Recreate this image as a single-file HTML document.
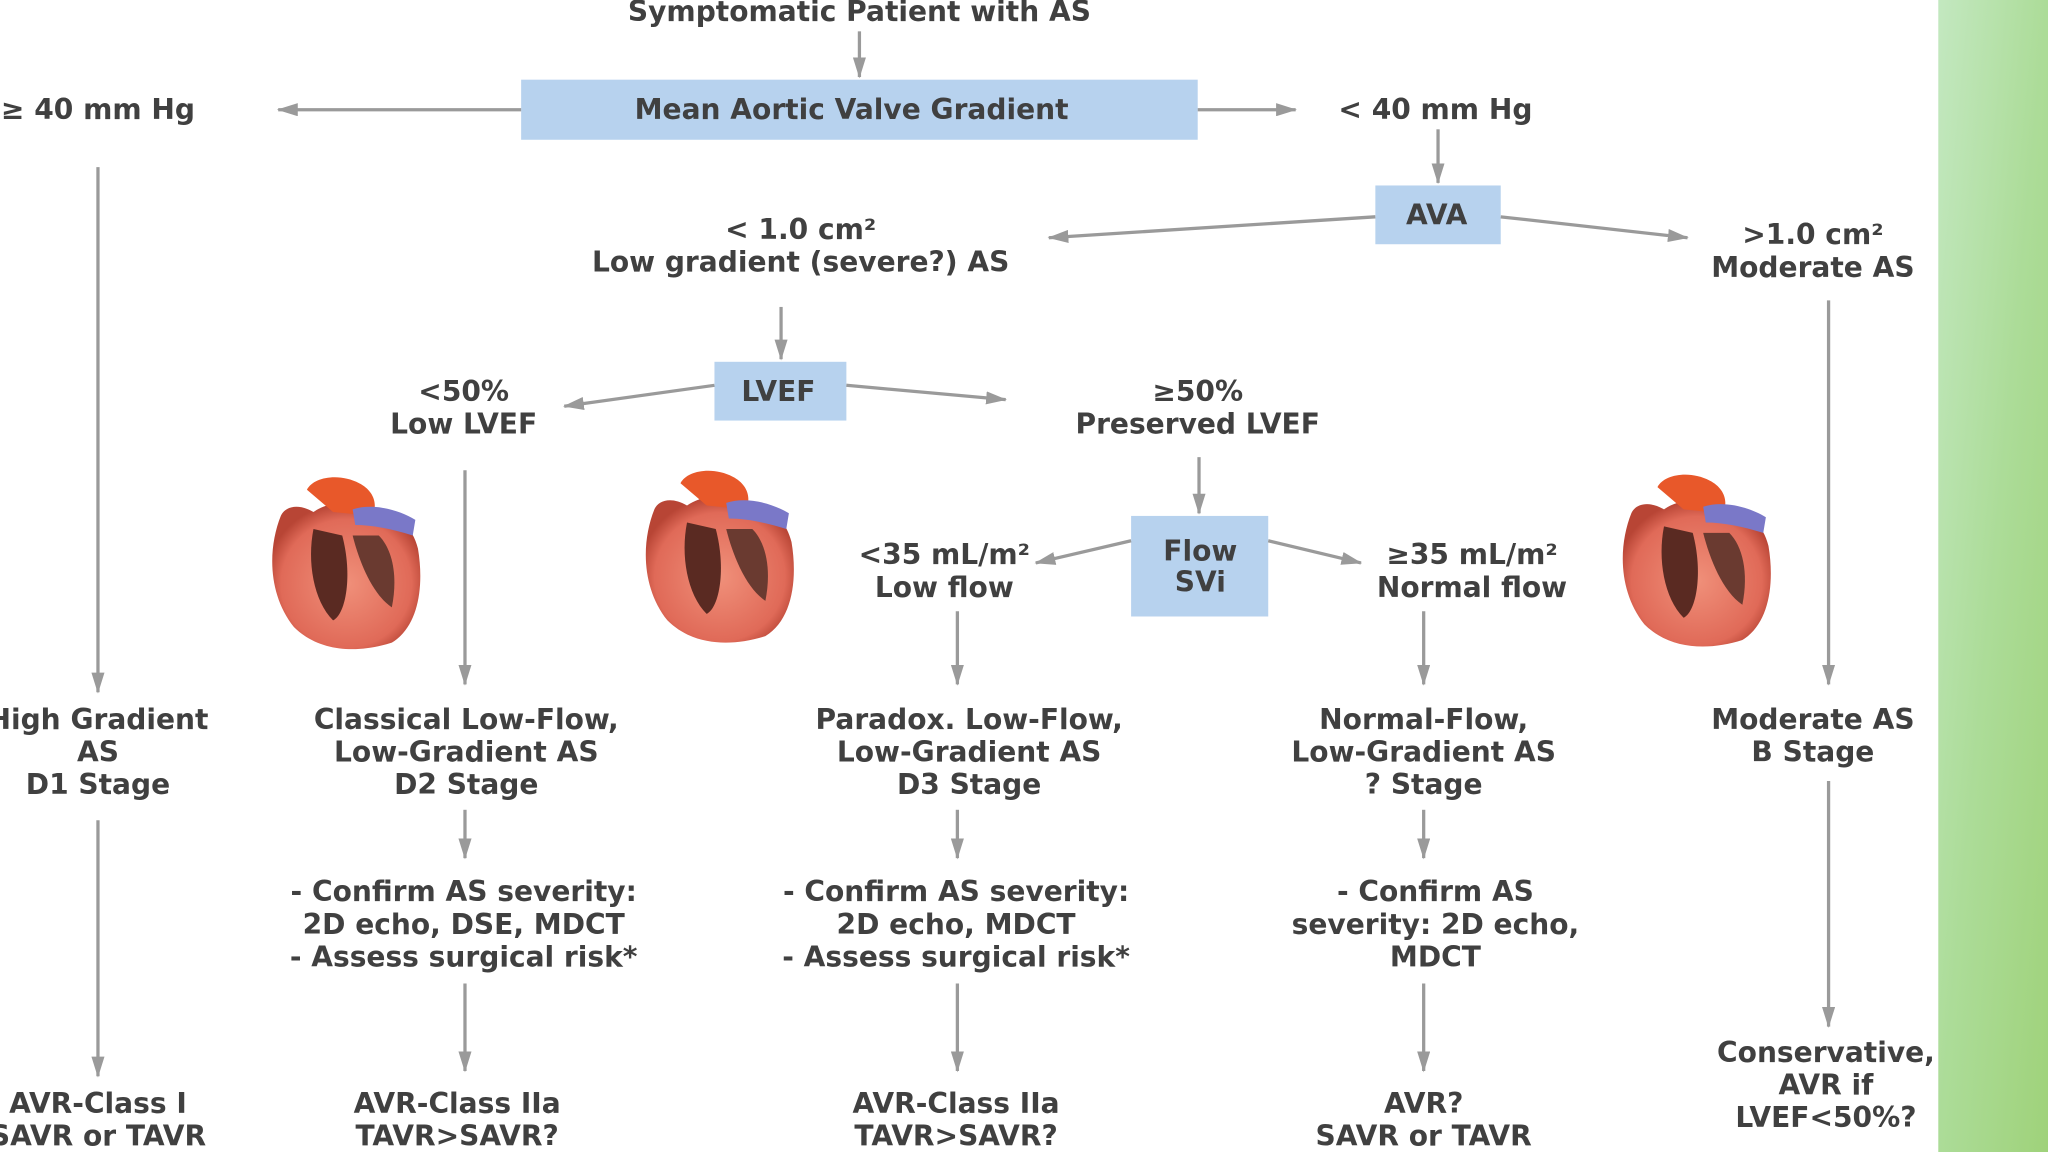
<!DOCTYPE html>
<html><head><meta charset="utf-8"><style>
html,body{margin:0;padding:0;background:#fff;}
svg{display:block;}
text{font-family:"DejaVu Sans","Liberation Sans",sans-serif;font-weight:bold;fill:#404040;font-size:21.5px;text-anchor:middle;}
.ln{stroke:#9a9a9a;stroke-width:2.5;fill:none;marker-end:url(#ah);}
</style></head><body>
<svg width="2048" height="1152" viewBox="0 0 1568 882" preserveAspectRatio="none" xmlns="http://www.w3.org/2000/svg">
<defs>
<marker id="ah" markerWidth="16" markerHeight="10" refX="15" refY="5" orient="auto" markerUnits="userSpaceOnUse" viewBox="0 0 16 10"><path d="M0,0 L16,5 L0,10 z" fill="#9a9a9a"/></marker>
<linearGradient id="gr" x1="0" y1="0" x2="1" y2="1"><stop offset="0" stop-color="#c3e8c0"/><stop offset="0.5" stop-color="#acdc98"/><stop offset="1" stop-color="#9fd27a"/></linearGradient>
<radialGradient id="ht" cx="0.5" cy="0.55" r="0.55"><stop offset="0" stop-color="#f0907a"/><stop offset="0.8" stop-color="#e06a58"/><stop offset="1" stop-color="#b84535"/></radialGradient>
</defs>
<rect x="1484" y="0" width="84" height="882" fill="url(#gr)"/>
<rect x="399" y="61" width="518" height="46" fill="#b7d2ee"/>
<rect x="1053" y="142" width="96" height="45" fill="#b7d2ee"/>
<rect x="547" y="277" width="101" height="45" fill="#b7d2ee"/>
<rect x="866" y="395" width="105" height="77" fill="#b7d2ee"/>
<text x="658" y="16">Symptomatic Patient with AS</text>
<text x="652" y="91">Mean Aortic Valve Gradient</text>
<text x="75" y="91">≥ 40 mm Hg</text>
<text x="1099" y="91">&lt; 40 mm Hg</text>
<text x="1100" y="172">AVA</text>
<text x="613" y="183">&lt; 1.0 cm²</text>
<text x="613" y="208">Low gradient (severe?) AS</text>
<text x="1388" y="187">&gt;1.0 cm²</text>
<text x="1388" y="212">Moderate AS</text>
<text x="596" y="307">LVEF</text>
<text x="355" y="307">&lt;50%</text>
<text x="355" y="332">Low LVEF</text>
<text x="917" y="307">≥50%</text>
<text x="917" y="332">Preserved LVEF</text>
<text x="919" y="429">Flow</text>
<text x="919" y="453">SVi</text>
<text x="723" y="432">&lt;35 mL/m²</text>
<text x="723" y="457">Low flow</text>
<text x="1127" y="432">≥35 mL/m²</text>
<text x="1127" y="457">Normal flow</text>
<text x="75" y="558">High Gradient</text><text x="75" y="583">AS</text><text x="75" y="608">D1 Stage</text>
<text x="357" y="558">Classical Low-Flow,</text><text x="357" y="583">Low-Gradient AS</text><text x="357" y="608">D2 Stage</text>
<text x="742" y="558">Paradox. Low-Flow,</text><text x="742" y="583">Low-Gradient AS</text><text x="742" y="608">D3 Stage</text>
<text x="1090" y="558">Normal-Flow,</text><text x="1090" y="583">Low-Gradient AS</text><text x="1090" y="608">? Stage</text>
<text x="1388" y="558">Moderate AS</text><text x="1388" y="583">B Stage</text>
<text x="355" y="690">- Confirm AS severity:</text><text x="355" y="715">2D echo, DSE, MDCT</text><text x="355" y="740">- Assess surgical risk*</text>
<text x="732" y="690">- Confirm AS severity:</text><text x="732" y="715">2D echo, MDCT</text><text x="732" y="740">- Assess surgical risk*</text>
<text x="1099" y="690">- Confirm AS</text><text x="1099" y="715">severity: 2D echo,</text><text x="1099" y="740">MDCT</text>
<text x="1398" y="813">Conservative,</text><text x="1398" y="838">AVR if</text><text x="1398" y="863">LVEF&lt;50%?</text>
<text x="75" y="852">AVR-Class I</text><text x="75" y="877">SAVR or TAVR</text>
<text x="350" y="852">AVR-Class IIa</text><text x="350" y="877">TAVR&gt;SAVR?</text>
<text x="732" y="852">AVR-Class IIa</text><text x="732" y="877">TAVR&gt;SAVR?</text>
<text x="1090" y="852">AVR?</text><text x="1090" y="877">SAVR or TAVR</text>
<line class="ln" x1="658" y1="24" x2="658" y2="59"/>
<line class="ln" x1="399" y1="84" x2="213" y2="84"/>
<line class="ln" x1="917" y1="84" x2="992" y2="84"/>
<line class="ln" x1="1101" y1="99" x2="1101" y2="140"/>
<line class="ln" x1="1053" y1="166" x2="803" y2="182"/>
<line class="ln" x1="1149" y1="166" x2="1292" y2="182"/>
<line class="ln" x1="598" y1="235" x2="598" y2="275"/>
<line class="ln" x1="547" y1="295" x2="432" y2="311"/>
<line class="ln" x1="648" y1="295" x2="770" y2="306"/>
<line class="ln" x1="918" y1="350" x2="918" y2="393"/>
<line class="ln" x1="866" y1="414" x2="793" y2="431"/>
<line class="ln" x1="971" y1="414" x2="1042" y2="431"/>
<line class="ln" x1="75" y1="128" x2="75" y2="530"/>
<line class="ln" x1="356" y1="360" x2="356" y2="524"/>
<line class="ln" x1="733" y1="468" x2="733" y2="524"/>
<line class="ln" x1="1090" y1="468" x2="1090" y2="524"/>
<line class="ln" x1="1400" y1="230" x2="1400" y2="524"/>
<line class="ln" x1="356" y1="620" x2="356" y2="657"/>
<line class="ln" x1="733" y1="620" x2="733" y2="657"/>
<line class="ln" x1="1090" y1="620" x2="1090" y2="657"/>
<line class="ln" x1="75" y1="628" x2="75" y2="824"/>
<line class="ln" x1="356" y1="753" x2="356" y2="820"/>
<line class="ln" x1="733" y1="753" x2="733" y2="820"/>
<line class="ln" x1="1090" y1="753" x2="1090" y2="820"/>
<line class="ln" x1="1400" y1="598" x2="1400" y2="786"/>
<g id="h1">
<path d="M215,395 C205,420 205,455 225,480 C245,500 275,500 300,492 C320,480 325,450 320,420 C315,400 300,390 285,395 C270,380 250,385 240,392 C228,385 218,388 215,395 Z" fill="url(#ht)"/>
<path d="M235,375 C240,365 260,362 275,370 C285,375 290,385 285,395 L255,392 Z" fill="#e8582a"/>
<path d="M270,390 C285,385 305,390 318,398 L316,410 C300,405 285,402 272,402 Z" fill="#7a78c8"/>
<path d="M240,405 C235,430 240,460 255,475 C265,470 270,440 262,410 Z" fill="#5a2a22"/>
<path d="M270,410 C275,430 285,455 300,465 C305,440 300,420 290,410 Z" fill="#6a3a30"/>
</g>
<use href="#h1" x="286" y="-5"/>
<use href="#h1" x="1034" y="-2"/>
</svg>
</body></html>
